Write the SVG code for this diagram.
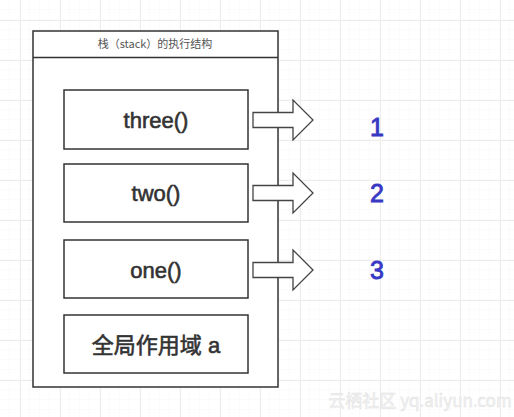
<svg xmlns="http://www.w3.org/2000/svg" width="514" height="417" viewBox="0 0 514 417">
<defs>
<pattern id="minor" width="10" height="10" patternUnits="userSpaceOnUse" x="0" y="0">
<path d="M10 0V10M0 10H10" fill="none" stroke="#f6f6f6" stroke-width="1"/>
</pattern>
<pattern id="major" width="40" height="40" patternUnits="userSpaceOnUse" x="20" y="20">
<path d="M0.5 0V40M0 0.5H40" fill="none" stroke="#ededed" stroke-width="1"/>
</pattern>
<path id="arr" d="M0 -7.5H40V-20L60 0L40 20V7.5H0Z"/>
</defs>
<style>
.box{fill:#fff;stroke:#333;stroke-width:1.5}
.lbl{font-family:"Liberation Sans","Noto Sans CJK SC",sans-serif;font-size:22px;fill:#333;stroke:#333;stroke-width:0.6;text-anchor:middle}
.num{font-family:"Liberation Sans",sans-serif;font-size:25px;fill:#3838c4;stroke:#3838c4;stroke-width:0.9;text-anchor:middle}
.arrow{fill:#fff;stroke:#444;stroke-width:1.3}
</style>
<rect width="514" height="417" fill="#fff"/>
<rect width="514" height="417" fill="url(#minor)"/>
<rect width="514" height="417" fill="url(#major)"/>
<g id="stack">
<rect class="box" x="33" y="31" width="245" height="356"/>
<line x1="33" y1="57.5" x2="278" y2="57.5" stroke="#333" stroke-width="1.5"/>
<text x="155" y="48" font-family="'Noto Sans CJK SC',sans-serif" font-size="11" fill="#555" text-anchor="middle">栈（stack）的执行结构</text>
</g>
<g id="three">
<rect class="box" x="64" y="90" width="184" height="59"/>
<text class="lbl" x="156" y="128">three()</text>
</g>
<g id="two">
<rect class="box" x="64" y="164" width="184" height="58"/>
<text class="lbl" x="156" y="201">two()</text>
</g>
<g id="one">
<rect class="box" x="64" y="240" width="184" height="58"/>
<text class="lbl" x="156" y="278">one()</text>
</g>
<g id="global">
<rect class="box" x="64" y="315" width="184" height="58"/>
<text class="lbl" x="156" y="353">全局作用域 a</text>
</g>
<g id="connectors">
<use href="#arr" class="arrow" x="253" y="120"/>
<use href="#arr" class="arrow" x="253" y="193"/>
<use href="#arr" class="arrow" x="253" y="270"/>
</g>
<g id="numbers">
<text class="num" x="377" y="136">1</text>
<text class="num" x="377" y="202">2</text>
<text class="num" x="377" y="279">3</text>
</g>
<text x="420" y="407" font-family="'Noto Sans CJK SC',sans-serif" font-size="17" fill="#f2f2f2" stroke="#e0e0e0" stroke-width="0.4" text-anchor="middle">云栖社区 yq.aliyun.com</text>
</svg>
